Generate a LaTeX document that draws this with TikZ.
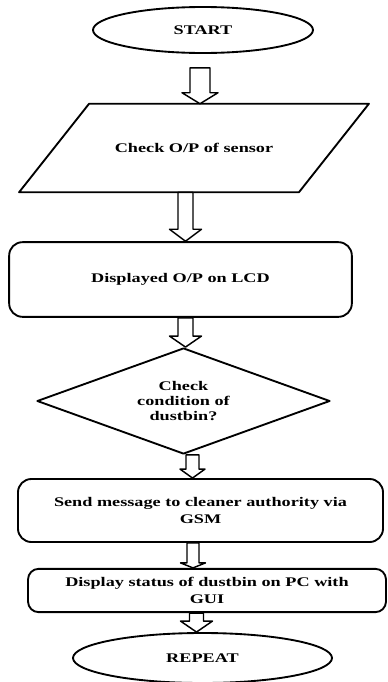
\documentclass[tikz,border=0pt]{standalone}
\usepackage{fontspec}
\setmainfont{Liberation Serif}[FakeStretch=1.38]
\usetikzlibrary{shapes.geometric,calc}

\newcommand{\flowfont}{\fontsize{9.9}{12.75}\selectfont\bfseries}
\newcommand{\pxu}{0.75pt}

% Hollow block arrow: #1 top point, #2 tip point, #3 x of the axis,
% #4 shaft half width, #5 head half width, #6 head length (all in px)
\newcommand{\hollowarrow}[6]{%
  \draw[blockarrow] let \p1=(#1), \p2=(#2), \p3=(#3,0) in
    (\x3-#4*\pxu,\y1) -- (\x3-#4*\pxu,\y2+#6*\pxu) -- (\x3-#5*\pxu,\y2+#6*\pxu)
    -- (\x3,\y2) -- (\x3+#5*\pxu,\y2+#6*\pxu) -- (\x3+#4*\pxu,\y2+#6*\pxu)
    -- (\x3+#4*\pxu,\y1) -- cycle;
}

\begin{document}
\begin{tikzpicture}[
  x=0.75pt,
  y=-0.75pt,
  line join=round,
  box/.style={draw,line width=1.4pt,align=center,font=\flowfont,inner sep=0pt},
  terminal/.style={box,ellipse},
  process/.style={box,rectangle,rounded corners=10pt},
  blockarrow/.style={draw,fill=white,line width=1.1pt}
]
  % Match the 387 x 682 px frame of the artwork.
  \useasboundingbox (0,0) rectangle (387,682);

  % Flow steps, top to bottom.
  \node[terminal,minimum width=165pt,minimum height=34.5pt] (start) at (203,30) {START};
  \node[box,draw=none,minimum width=208.5pt,minimum height=65pt] (sensor) at (194,148)
    {Check O/P of sensor};
  % Parallelogram round the sensor step, top edge shifted right.
  \draw[line width=1.4pt] ($(sensor.north west)+(35,0)$) -- ($(sensor.north east)+(35,0)$)
    -- ($(sensor.south east)+(-35,0)$) -- ($(sensor.south west)+(-35,0)$) -- cycle;
  \node[process,minimum width=257pt,minimum height=56pt] (lcd) at (180.5,279.5)
    {Displayed O/P on LCD};
  \node[box,diamond,aspect=2.76,minimum width=219.75pt,minimum height=79.5pt,
    font=\fontsize{9.9}{11.6}\selectfont\bfseries] (cond) at (183.5,401)
    {Check\\condition of\\dustbin?};
  \node[process,minimum width=273.75pt,minimum height=47.25pt] (gsm) at (200.5,510.5)
    {Send message to cleaner authority via\\GSM};
  \node[process,rounded corners=8pt,minimum width=268.5pt,minimum height=32.5pt] (gui) at (207,590.5)
    {Display status of dustbin on PC with\\GUI};
  \node[terminal,minimum width=194.25pt,minimum height=37.5pt] (repeat) at (202.5,658) {REPEAT};

  % Hollow arrows between the steps.
  \hollowarrow{$(start.south)+(0,14)$}{sensor.north}{200}{10}{18}{11}
  \hollowarrow{sensor.south}{lcd.north}{185.5}{7.5}{16}{12}
  \hollowarrow{lcd.south}{cond.north}{185.5}{7.5}{16}{11}
  \hollowarrow{cond.south}{gsm.north}{192.5}{6.5}{12.5}{9}
  \hollowarrow{gsm.south}{gui.north}{193}{6}{12.5}{5}
  \hollowarrow{gui.south}{repeat.north}{196.5}{7}{16}{11}
\end{tikzpicture}
\end{document}
